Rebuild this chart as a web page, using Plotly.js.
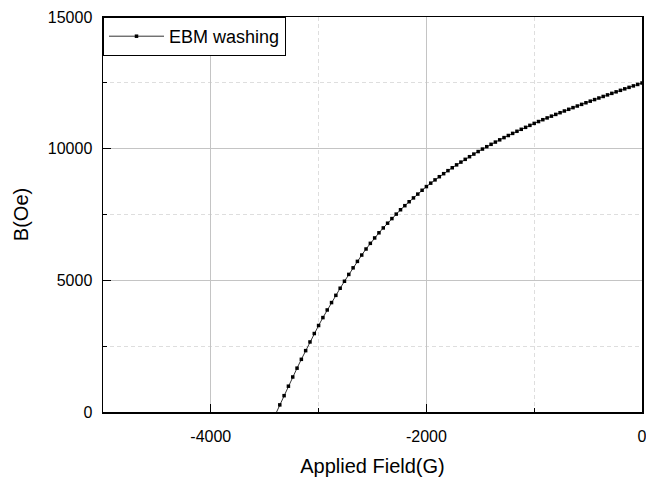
<!DOCTYPE html>
<html>
<head>
<meta charset="utf-8">
<script src="https://cdn.plot.ly/plotly-3.0.1.min.js"></script>
<style>html,body{margin:0;padding:0;background:#fff;}#chart{width:646px;height:477px;}</style>
</head>
<body>
<div id="chart"></div>
<script>
var seriesName = "EBM washing";
var appliedField = [-3400,-3360,-3320,-3280,-3240,-3200,-3160,-3120,-3080,-3040,-3000,
  -2960,-2920,-2880,-2840,-2800,-2760,-2720,-2680,-2640,-2600,
  -2560,-2520,-2480,-2440,-2400,-2360,-2320,-2280,-2240,-2200,
  -2160,-2120,-2080,-2040,-2000,-1960,-1920,-1880,-1840,-1800,
  -1760,-1720,-1680,-1640,-1600,-1560,-1520,-1480,-1440,-1400,
  -1360,-1320,-1280,-1240,-1200,-1160,-1120,-1080,-1040,-1000,
  -960,-920,-880,-840,-800,-760,-720,-680,-640,-600,
  -560,-520,-480,-440,-400,-360,-320,-280,-240,-200,
  -160,-120,-80,-40,0];
var bField = [-90,270,620,980,1330,1665,2000,2330,2660,2980,3285,
  3585,3875,4155,4430,4700,4965,5225,5475,5720,5960,
  6190,6405,6610,6805,6990,7170,7345,7515,7680,7835,
  7985,8130,8275,8420,8560,8690,8815,8935,9050,9165,
  9275,9385,9490,9595,9695,9795,9890,9985,10075,10165,
  10250,10335,10420,10500,10580,10660,10735,10810,10885,10960,
  11030,11100,11168,11235,11301,11366,11431,11495,11558,11620,
  11682,11743,11804,11864,11924,11983,12042,12100,12158,12215,
  12272,12328,12384,12439,12494];
var xTickVals = [-4000,-2000,0];
var xTickText = ["-4000","-2000","0"];
var yTickVals = [0,5000,10000,15000];
var yTickText = ["0","5000","10000","15000"];

var font = "Liberation Sans, Arial, sans-serif";
var trace = {
  x: appliedField, y: bField, name: seriesName,
  type: "scatter", mode: "lines+markers",
  line: {color: "#333333", width: 1},
  marker: {symbol: "square", size: 3.5, color: "#000000"},
  showlegend: true
};
var layout = {
  width: 646, height: 477,
  margin: {l: 103, r: 4, t: 17, b: 65, pad: 0},
  paper_bgcolor: "#ffffff", plot_bgcolor: "#ffffff",
  font: {family: font, color: "#000000", size: 16},
  showlegend: true,
  legend: {x: 0, y: 1, xanchor: "left", yanchor: "top", bgcolor: "#ffffff",
    bordercolor: "#000000", borderwidth: 1, font: {family: font, size: 18, color: "#000"},
    itemwidth: 55, entrywidth: 195, tracegroupgap: 0},
  xaxis: {
    range: [-5000, 0], tickvals: xTickVals, ticktext: xTickText,
    ticks: "inside", ticklen: 8, tickwidth: 1.2, tickcolor: "#000",
    ticklabeloverflow: "allow", ticklabelstandoff: 9,
    showline: true, linecolor: "#000", linewidth: 1.5, mirror: true,
    showgrid: true, gridcolor: "#c4c4c4", gridwidth: 1,
    zeroline: false,
    minor: {dtick: 1000, tick0: -5000, ticks: "inside", ticklen: 4, tickcolor: "#000",
      showgrid: true, gridcolor: "#dedede", griddash: "4px,3px", gridwidth: 1},
    tickfont: {size: 16, family: font},
    title: {text: "Applied Field(G)", font: {size: 20, family: font}, standoff: 15}
  },
  yaxis: {
    range: [0, 15000], tickvals: yTickVals, ticktext: yTickText,
    ticks: "inside", ticklen: 8, tickwidth: 1.2, tickcolor: "#000",
    ticklabeloverflow: "allow", ticklabelstandoff: 6,
    showline: true, linecolor: "#000", linewidth: 1.5, mirror: true,
    showgrid: true, gridcolor: "#c4c4c4", gridwidth: 1,
    zeroline: false,
    minor: {dtick: 2500, tick0: 0, ticks: "inside", ticklen: 4, tickcolor: "#000",
      showgrid: true, gridcolor: "#dedede", griddash: "4px,3px", gridwidth: 1},
    tickfont: {size: 16, family: font},
    title: {text: "B(Oe)", font: {size: 20, family: font}, standoff: 14}
  }
};
Plotly.newPlot("chart", [trace], layout, {staticPlot: true, displayModeBar: false});
</script>
</body>
</html>
